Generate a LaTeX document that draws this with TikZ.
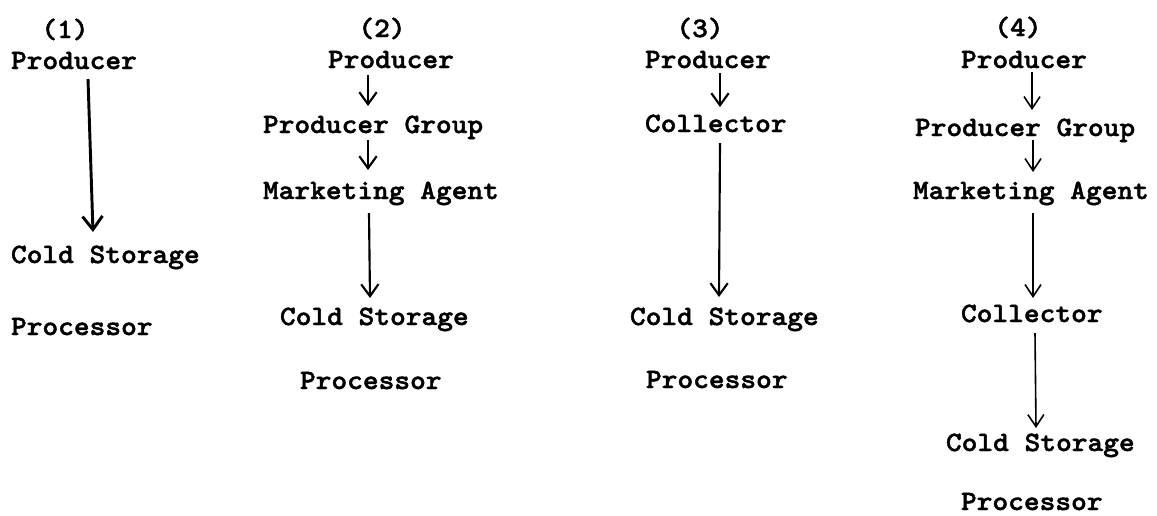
\documentclass[tikz,border=0pt]{standalone}
\usepackage{fontspec}
\usetikzlibrary{arrows.meta}
\newfontfamily\tw{lmmonolt10-bold}[Extension=.otf, FakeStretch=1.07, FakeBold=1.6]
\begin{document}
\begin{tikzpicture}[x=0.75pt,y=-0.75pt,
  lbl/.style={inner sep=0pt, outer sep=0pt, anchor=base west, font=\tw\fontsize{21}{24}\selectfont},
  ttl/.style={lbl, anchor=base},
  arr/.style={line width=1.6pt, -{Straight Barb[length=9pt,width=13pt]}},
  thickarr/.style={arr, line width=2.2pt, -{Straight Barb[length=10pt,width=15pt]}},
  thinarr/.style={arr, line width=1.2pt, -{Straight Barb[length=9pt,width=12pt]}}]
\useasboundingbox (0,0) rectangle (1157,515);
% column 1
\node[ttl] (t1) at (65,38) {(1)};
\node[lbl] (p1) at (11,69) {Producer};
\node[lbl] (c1) at (11,263) {Cold Storage};
\node[lbl] (r1) at (11,335) {Processor};
\draw[thickarr] ([shift={(77,10)}]p1.base west) -- ([shift={(82,-31)}]c1.base west);
% column 2
\node[ttl] (t2) at (382,37) {(2)};
\node[lbl] (p2) at (328,68) {Producer};
\node[lbl] (g2) at (263,133) {Producer Group};
\node[lbl] (m2) at (263,199) {Marketing Agent};
\node[lbl] (c2) at (280,325) {Cold Storage};
\node[lbl] (r2) at (300,389) {Processor};
\draw[arr] ([shift={(40,7)}]p2.base west) -- ([shift={(105,-27)}]g2.base west);
\draw[arr] ([shift={(105,7)}]g2.base west) -- ([shift={(105,-29)}]m2.base west);
\draw[arr] ([shift={(106,14)}]m2.base west) -- ([shift={(90,-27)}]c2.base west);
% column 3
\node[ttl] (t3) at (700,37) {(3)};
\node[lbl] (p3) at (645,68) {Producer};
\node[lbl] (l3) at (645,132) {Collector};
\node[lbl] (c3) at (630,325) {Cold Storage};
\node[lbl] (r3) at (646,388) {Processor};
\draw[arr] ([shift={(75,5)}]p3.base west) -- ([shift={(75,-25)}]l3.base west);
\draw[arr] ([shift={(75,11)}]l3.base west) -- ([shift={(89,-28)}]c3.base west);
% column 4
\node[ttl] (t4) at (1018,36) {(4)};
\node[lbl] (p4) at (961,68) {Producer};
\node[lbl] (g4) at (915,136) {Producer Group};
\node[lbl] (m4) at (913,199) {Marketing Agent};
\node[lbl] (l4) at (961,322) {Collector};
\node[lbl] (c4) at (946,451) {Cold Storage};
\node[lbl] (r4) at (961,510) {Processor};
\draw[thinarr] ([shift={(71,4)}]p4.base west) -- ([shift={(117,-26)}]g4.base west);
\draw[thinarr] ([shift={(118,4)}]g4.base west) -- ([shift={(120,-27)}]m4.base west);
\draw[thinarr] ([shift={(120,14)}]m4.base west) -- ([shift={(72,-24)}]l4.base west);
\draw[thinarr] ([shift={(74,11)}]l4.base west) -- ([shift={(90,-23)}]c4.base west);
\end{tikzpicture}
\end{document}
